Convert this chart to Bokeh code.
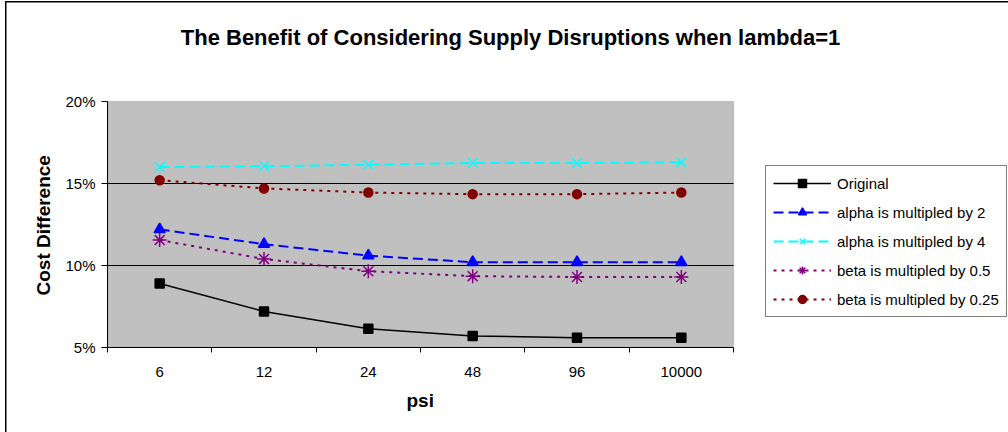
from bokeh.plotting import figure
from bokeh.models import (Range1d, FixedTicker, NumeralTickFormatter, Legend, LegendItem,
                          BoxAnnotation, Label, Title)
from bokeh.embed import file_html
from bokeh.resources import INLINE

# ---- data ----
psi = ["6", "12", "24", "48", "96", "10000"]
original = [0.089, 0.072, 0.0615, 0.057, 0.056, 0.056]
alpha_x2 = [0.122, 0.113, 0.106, 0.102, 0.102, 0.102]
alpha_x4 = [0.160, 0.1605, 0.1615, 0.1625, 0.1625, 0.163]
beta_x05 = [0.1155, 0.104, 0.0965, 0.0935, 0.093, 0.093]
beta_x025 = [0.152, 0.147, 0.1445, 0.1435, 0.1435, 0.1445]
y_ticks = [0.05, 0.10, 0.15, 0.20]
title_text = "The Benefit of Considering Supply Disruptions when lambda=1"
x_title = "psi"
y_title = "Cost Difference"

FONT = "Liberation Sans"
W, H = 1008, 432
PLOT_L, PLOT_R, PLOT_T, PLOT_B = 107, 733, 101, 347   # plot-area box in pixels

n = len(psi)
xs = [i + 0.5 for i in range(n)]
y0, y1 = y_ticks[0], y_ticks[-1]
px_x = (PLOT_R - PLOT_L) / n
px_y = (PLOT_B - PLOT_T) / (y1 - y0)
x_end = (W - PLOT_L) / px_x
y_end = y1 + PLOT_T / px_y

p = figure(width=W, height=H, output_backend="svg", toolbar_location=None,
           x_range=Range1d(0, x_end), y_range=Range1d(y0, y_end),
           min_border_left=PLOT_L, min_border_right=0, min_border_top=0,
           min_border_bottom=H - PLOT_B,
           background_fill_alpha=0, border_fill_alpha=0)

p.styles = {
    "background": "linear-gradient(#000,#000) 5px 1px / 1.5px 431px no-repeat, "
                  "linear-gradient(#000,#000) 5px 1px / 1003px 1.5px no-repeat, #fff"
}
p.outline_line_color = None

# gray plot area
p.add_layout(BoxAnnotation(left=0, right=n, bottom=y0, top=y1, fill_color="#C0C0C0",
                           fill_alpha=1, line_color="#808080", line_width=1.5, level="image"))

# horizontal grid lines inside the plot area only
p.xgrid.visible = False
p.ygrid.visible = False
inner = y_ticks[1:-1]
p.segment(x0=[0] * len(inner), x1=[n] * len(inner), y0=inner, y1=inner,
          line_color="black", line_width=1, level="underlay")

# chart title
p.add_layout(Label(x=(510 - PLOT_L) / px_x, y=y1 + (PLOT_T - 37) / px_y, text=title_text,
                   text_align="center", text_baseline="alphabetic", text_font=FONT,
                   text_font_size="22px", text_font_style="bold", text_color="black"))

# x axis
xa = p.xaxis[0]
xa.bounds = (0, n)
xa.ticker = FixedTicker(ticks=xs, minor_ticks=list(range(n + 1)))
xa.major_label_overrides = {x: s for x, s in zip(xs, psi)}
xa.major_tick_out = 0
xa.major_tick_in = 0
xa.minor_tick_out = 5
xa.minor_tick_in = 0
xa.minor_tick_line_color = "black"
xa.axis_line_color = "black"
xa.major_label_text_font = FONT
xa.major_label_text_font_size = "15px"
xa.major_label_text_color = "black"
xa.major_label_standoff = 14

# y axis
ya = p.yaxis[0]
ya.bounds = (y0, y1)
ya.ticker = FixedTicker(ticks=y_ticks)
ya.formatter = NumeralTickFormatter(format="0%")
ya.major_tick_out = 6
ya.major_tick_in = 0
ya.minor_tick_line_color = None
ya.axis_line_color = "black"
ya.major_label_text_font = FONT
ya.major_label_text_font_size = "15px"
ya.major_label_text_color = "black"
ya.major_label_standoff = 6

# axis titles, centred on the plot area
p.add_layout(Title(text=x_title, align="left", offset=299, standoff=16,
                   text_font=FONT, text_font_size="19px", text_font_style="bold",
                   text_color="black", text_line_height=1.0), "below")
p.add_layout(Title(text=y_title, align="left", offset=52, standoff=18,
                   text_font=FONT, text_font_size="19px", text_font_style="bold",
                   text_color="black", text_line_height=1.0), "left")

items = []
def series(vals, color, dash, width, marker, msize, label, fill=True):
    r1 = p.line(xs, vals, line_color=color, line_width=width, line_dash=dash)
    r2 = p.scatter(xs, vals, marker=marker, size=msize, line_color=color,
                   fill_color=color if fill else None, line_width=1.5)
    items.append(LegendItem(label=label, renderers=[r1, r2]))

series(original, "black", "solid", 1.5, "square", 9, "Original")
series(alpha_x2, "#0000FF", "10 5", 2, "triangle", 11, "alpha is multipled by 2")
series(alpha_x4, "#00FFFF", "10 5", 2, "x", 14, "alpha is multipled by 4", fill=False)
series(beta_x05, "#800080", "3 5", 2, "asterisk", 14, "beta is multipled by 0.5", fill=False)
series(beta_x025, "#800000", "3 5", 2, "circle", 9, "beta is multipled by 0.25")

legend = Legend(items=items, location=(765 - PLOT_L, PLOT_B - 317))
legend.label_text_font = FONT
legend.label_text_font_size = "15px"
legend.label_text_color = "black"
legend.glyph_width = 58
legend.glyph_height = 20
legend.label_height = 20
legend.label_standoff = 6
legend.spacing = 9
legend.padding = 7
legend.margin = 0
legend.border_line_color = "black"
legend.border_line_width = 1
legend.background_fill_color = "white"
legend.background_fill_alpha = 1
p.add_layout(legend, "center")

open("out.html", "w").write(file_html(p, INLINE))
